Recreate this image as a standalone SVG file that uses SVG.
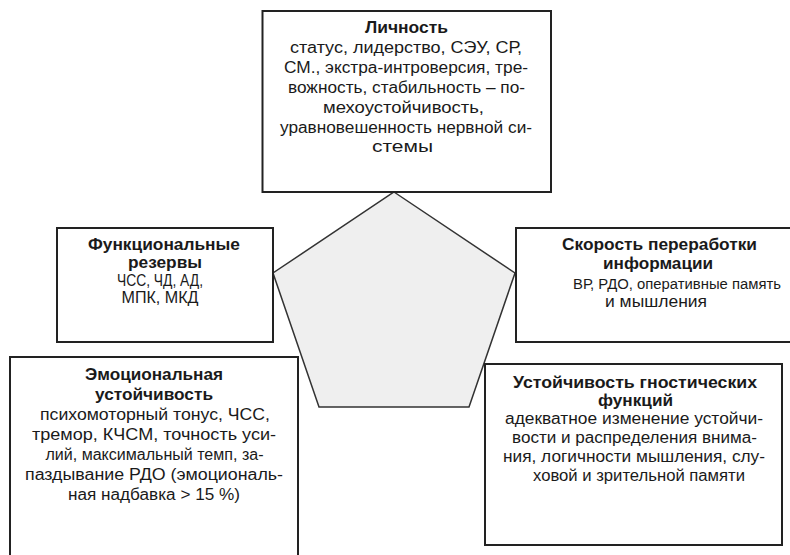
<svg xmlns="http://www.w3.org/2000/svg" width="790" height="555" viewBox="0 0 790 555">
<style>
.box{fill:#fff;stroke:#222;stroke-width:2}
.pent{fill:#efefef;stroke:#333;stroke-width:1.5;stroke-linejoin:miter}
text{font-family:"Liberation Sans",Arial,sans-serif;font-size:16px;fill:#1a1a1a;text-anchor:middle}
.b{font-weight:bold}
.s{font-size:15.5px}
</style>
<rect width="790" height="555" fill="#fff"/>
<g id="connectors"/>
<g id="pentagon">
<polygon class="pent" points="394,192 515,273 469,407 319,407 273,273"/>
</g>
<g id="lichnost">
<rect class="box" x="262.5" y="11" width="288.5" height="181"/>
<text x="406.5" y="33" class="b" textLength="83" lengthAdjust="spacingAndGlyphs">Личность</text>
<text x="406" y="53" textLength="232" lengthAdjust="spacingAndGlyphs">статус, лидерство, СЭУ, СР,</text>
<text x="406" y="73" textLength="244" lengthAdjust="spacingAndGlyphs">СМ., экстра-интроверсия, тре-</text>
<text x="406.5" y="93" textLength="237" lengthAdjust="spacingAndGlyphs">вожность, стабильность – по-</text>
<text x="403.5" y="113" textLength="161" lengthAdjust="spacingAndGlyphs">мехоустойчивость,</text>
<text x="406" y="133" textLength="252" lengthAdjust="spacingAndGlyphs">уравновешенность нервной си-</text>
<text x="402.5" y="152" textLength="61" lengthAdjust="spacingAndGlyphs">стемы</text>
</g>
<g id="funkcionalnye-rezervy">
<rect class="box" x="57" y="228" width="216" height="114"/>
<text x="164" y="250" class="b" textLength="152" lengthAdjust="spacingAndGlyphs">Функциональные</text>
<text x="165" y="268" class="b" textLength="74" lengthAdjust="spacingAndGlyphs">резервы</text>
<text x="160" y="286" textLength="86" lengthAdjust="spacingAndGlyphs">ЧСС, ЧД, АД,</text>
<text x="160" y="303" textLength="77" lengthAdjust="spacingAndGlyphs">МПК, МКД</text>
</g>
<g id="skorost">
<rect class="box" x="516" y="228" width="280" height="114"/>
<text x="659.5" y="250" class="b" textLength="195" lengthAdjust="spacingAndGlyphs">Скорость переработки</text>
<text x="658" y="269" class="b" textLength="110" lengthAdjust="spacingAndGlyphs">информации</text>
<text x="677" y="289" class="s" textLength="208" lengthAdjust="spacingAndGlyphs">ВР, РДО, оперативные память</text>
<text x="656" y="307" textLength="102" lengthAdjust="spacingAndGlyphs">и мышления</text>
</g>
<g id="emocionalnaya">
<rect class="box" x="10" y="357" width="288" height="210"/>
<text x="154" y="380" class="b" textLength="138" lengthAdjust="spacingAndGlyphs">Эмоциональная</text>
<text x="154" y="400" class="b" textLength="118" lengthAdjust="spacingAndGlyphs">устойчивость</text>
<text x="155" y="420" textLength="230" lengthAdjust="spacingAndGlyphs">психомоторный тонус, ЧСС,</text>
<text x="154" y="440" textLength="244" lengthAdjust="spacingAndGlyphs">тремор, КЧСМ, точность уси-</text>
<text x="154.5" y="460" textLength="218" lengthAdjust="spacingAndGlyphs">лий, максимальный темп, за-</text>
<text x="154" y="480" textLength="258" lengthAdjust="spacingAndGlyphs">паздывание РДО (эмоциональ-</text>
<text x="154" y="500" textLength="172" lengthAdjust="spacingAndGlyphs">ная надбавка &gt; 15 %)</text>
</g>
<g id="gnosticheskie">
<rect class="box" x="485" y="364" width="297" height="181"/>
<text x="635" y="388" class="b" textLength="244" lengthAdjust="spacingAndGlyphs">Устойчивость гностических</text>
<text x="635.5" y="406" class="b" textLength="75" lengthAdjust="spacingAndGlyphs">функций</text>
<text x="634" y="424" textLength="258" lengthAdjust="spacingAndGlyphs">адекватное изменение устойчи-</text>
<text x="634.5" y="443" textLength="245" lengthAdjust="spacingAndGlyphs">вости и распределения внима-</text>
<text x="634" y="462" textLength="262" lengthAdjust="spacingAndGlyphs">ния, логичности мышления, слу-</text>
<text x="639" y="481" textLength="212" lengthAdjust="spacingAndGlyphs">ховой и зрительной памяти</text>
</g>
</svg>
